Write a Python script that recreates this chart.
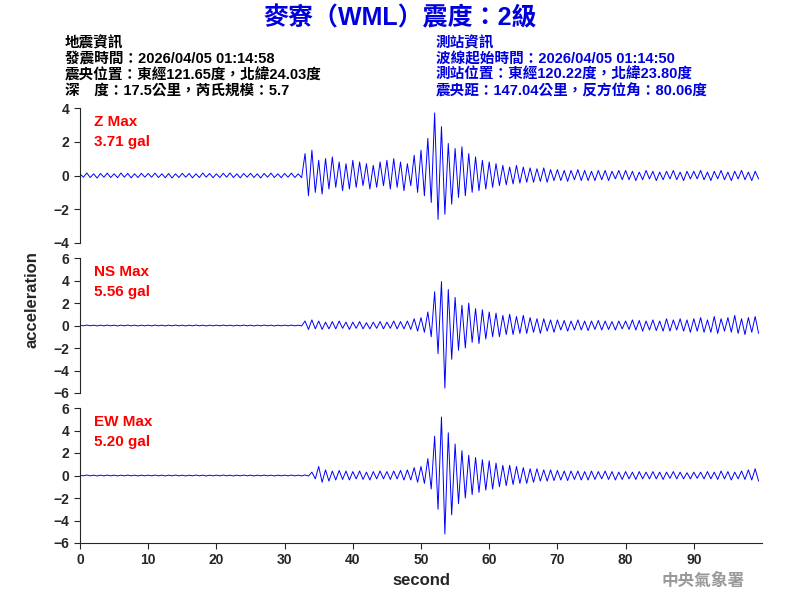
import numpy as np, pandas as pd, seaborn as sns, matplotlib
matplotlib.use("Agg")
import matplotlib.pyplot as plt

sns.set_style("white")
plt.rcParams['font.family'] = ['Liberation Sans', 'Noto Sans CJK TC', 'DejaVu Sans']

time_step = 0.5
z_vals = [0.1,-0.1,0.15,-0.12,0.1,-0.15,0.12,-0.1,0.14,-0.12,0.1,-0.13,0.15,-0.1,0.12,-0.14,0.1,-0.12,0.13,-0.1,
 0.12,-0.1,0.14,-0.12,0.1,-0.13,0.12,-0.15,0.1,-0.12,0.13,-0.1,0.12,-0.14,0.1,-0.12,0.15,-0.1,0.12,-0.13,
 0.1,-0.12,0.13,-0.1,0.15,-0.12,0.1,-0.14,0.12,-0.1,0.13,-0.12,0.1,-0.15,0.12,-0.1,0.14,-0.12,0.1,-0.13,
 0.12,-0.1,0.14,-0.12,0.1,-0.13,1.3,-1.2,1.5,-1.0,0.9,-1.1,1.0,-0.8,1.1,-0.7,0.8,-0.9,0.7,-0.8,
 0.9,-0.7,0.8,-0.6,0.7,-0.8,0.6,-0.7,0.8,-0.6,0.9,-0.8,1.0,-0.7,0.8,-0.9,0.7,-0.6,1.2,-1.0,
 1.5,-1.2,2.2,-1.6,3.71,-2.6,2.9,-2.3,1.9,-1.7,1.6,-1.3,1.7,-1.2,1.3,-1.0,1.1,-0.9,0.9,-0.8,
 0.8,-0.7,0.7,-0.6,0.6,-0.55,0.5,-0.5,0.6,-0.45,0.5,-0.4,0.45,-0.4,0.4,-0.35,0.45,-0.4,0.35,-0.3,
 0.35,-0.3,0.3,-0.35,0.3,-0.25,0.35,-0.3,0.3,-0.3,0.25,-0.3,0.3,-0.25,0.3,-0.3,0.25,-0.2,0.3,-0.25,
 0.3,-0.25,0.25,-0.3,0.2,-0.25,0.3,-0.2,0.25,-0.3,0.2,-0.25,0.25,-0.2,0.3,-0.25,0.2,-0.3,0.25,-0.2,
 0.25,-0.2,0.3,-0.25,0.2,-0.3,0.25,-0.2,0.3,-0.25,0.2,-0.3,0.25,-0.2,0.3,-0.25,0.2,-0.3,0.25,-0.2]
ns_vals = [0.03,-0.03,0.04,-0.03,0.03,-0.04,0.03,-0.03,0.04,-0.03,0.03,-0.04,0.03,-0.03,0.04,-0.03,0.03,-0.04,0.03,-0.03,
 0.03,-0.03,0.04,-0.03,0.03,-0.04,0.03,-0.03,0.04,-0.03,0.03,-0.04,0.03,-0.03,0.04,-0.03,0.03,-0.04,0.03,-0.03,
 0.03,-0.03,0.04,-0.03,0.03,-0.04,0.03,-0.03,0.04,-0.03,0.03,-0.04,0.03,-0.03,0.04,-0.03,0.03,-0.04,0.03,-0.03,
 0.03,-0.03,0.04,-0.03,0.03,-0.04,0.4,-0.35,0.5,-0.3,0.4,-0.35,0.3,-0.3,0.35,-0.3,0.4,-0.25,0.3,-0.35,
 0.3,-0.25,0.35,-0.3,0.25,-0.3,0.3,-0.25,0.35,-0.3,0.3,-0.25,0.4,-0.3,0.35,-0.3,0.4,-0.35,0.6,-0.5,
 0.7,-0.6,1.2,-1.0,3.0,-2.5,3.9,-5.56,3.2,-3.0,2.5,-2.2,1.8,-2.0,2.0,-1.5,1.5,-1.6,1.4,-1.2,
 1.2,-1.0,1.1,-1.0,0.9,-0.8,1.0,-0.8,0.8,-0.7,0.9,-0.7,0.7,-0.6,0.6,-0.7,0.6,-0.5,0.5,-0.6,
 0.5,-0.4,0.45,-0.5,0.4,-0.4,0.5,-0.4,0.4,-0.45,0.4,-0.35,0.45,-0.4,0.4,-0.35,0.35,-0.4,0.4,-0.3,
 0.4,-0.35,0.5,-0.4,0.45,-0.5,0.4,-0.4,0.5,-0.45,0.4,-0.5,0.6,-0.5,0.5,-0.4,0.6,-0.5,0.5,-0.6,
 0.6,-0.5,0.7,-0.6,0.5,-0.6,0.8,-0.7,0.6,-0.5,0.7,-0.6,0.9,-0.7,0.6,-0.8,0.7,-0.6,0.8,-0.7]
ew_vals = [0.03,-0.03,0.04,-0.03,0.03,-0.04,0.03,-0.03,0.04,-0.03,0.03,-0.04,0.03,-0.03,0.04,-0.03,0.03,-0.04,0.03,-0.03,
 0.03,-0.03,0.04,-0.03,0.03,-0.04,0.03,-0.03,0.04,-0.03,0.03,-0.04,0.03,-0.03,0.04,-0.03,0.03,-0.04,0.03,-0.03,
 0.03,-0.03,0.04,-0.03,0.03,-0.04,0.03,-0.03,0.04,-0.03,0.03,-0.04,0.03,-0.03,0.04,-0.03,0.03,-0.04,0.03,-0.03,
 0.03,-0.03,0.04,-0.03,0.03,-0.04,0.05,-0.05,0.3,-0.3,0.8,-0.6,0.5,-0.5,0.4,-0.4,0.45,-0.35,0.4,-0.4,
 0.35,-0.3,0.4,-0.35,0.3,-0.4,0.35,-0.3,0.4,-0.3,0.35,-0.35,0.4,-0.3,0.45,-0.4,0.5,-0.4,0.7,-0.6,
 0.8,-0.7,1.5,-1.2,3.5,-3.0,5.2,-5.2,3.8,-3.5,2.8,-2.5,2.2,-2.0,1.8,-1.7,1.6,-1.5,1.4,-1.3,
 1.3,-1.2,1.1,-1.0,0.9,-0.9,0.9,-0.8,0.8,-0.7,0.7,-0.7,0.6,-0.6,0.6,-0.5,0.5,-0.5,0.5,-0.45,
 0.45,-0.4,0.4,-0.45,0.4,-0.35,0.4,-0.4,0.35,-0.4,0.4,-0.35,0.35,-0.3,0.4,-0.35,0.35,-0.4,0.3,-0.35,
 0.35,-0.3,0.3,-0.35,0.35,-0.3,0.3,-0.3,0.35,-0.3,0.3,-0.35,0.3,-0.25,0.35,-0.3,0.3,-0.3,0.25,-0.3,
 0.3,-0.25,0.3,-0.3,0.35,-0.3,0.3,-0.35,0.4,-0.3,0.35,-0.4,0.3,-0.3,0.4,-0.35,0.5,-0.4,0.6,-0.5]
t = np.arange(len(z_vals)) * time_step

channels = [("Z Max", "3.71 gal", z_vals, (-4, 4), [-4,-2,0,2,4]),
            ("NS Max", "5.56 gal", ns_vals, (-6, 6), [-6,-4,-2,0,2,4,6]),
            ("EW Max", "5.20 gal", ew_vals, (-6, 6), [-6,-4,-2,0,2,4,6])]

fig = plt.figure(figsize=(8, 6), dpi=100)
tops = [108, 258, 408]
for i, (name, val, vals, yl, yt) in enumerate(channels):
    ax = fig.add_axes([80/800, 1-(tops[i]+135)/600, 682/800, 135/600])
    df = pd.DataFrame({"t": t, "a": vals})
    sns.lineplot(data=df, x="t", y="a", ax=ax, color="blue", lw=0.7)
    ax.set_xlim(0, 100); ax.set_ylim(*yl); ax.set_yticks(yt)
    ax.set_xlabel(""); ax.set_ylabel("")
    for s in ["top", "right"]:
        ax.spines[s].set_visible(False)
    if i < 2:
        ax.spines["bottom"].set_visible(False); ax.set_xticks([])
    else:
        ax.set_xticks(range(0, 100, 10))
        ax.set_xlabel("second", fontsize=12, fontweight="bold")
    ax.tick_params(axis="both", labelsize=10, length=4, direction="out", left=True, bottom=(i == 2))
    for lab in ax.get_xticklabels() + ax.get_yticklabels():
        lab.set_fontweight("bold")
    ax.text(0.02, 0.95, name, transform=ax.transAxes, color="red", fontsize=11, fontweight="bold", va="top")
    ax.text(0.02, 0.80, val, transform=ax.transAxes, color="red", fontsize=11, fontweight="bold", va="top")

fig.text(32/800, 0.5, "acceleration", rotation=90, fontsize=12, fontweight="bold", ha="center", va="center")
fig.text(0.5, 1-18/600, "麥寮（WML）震度：2級", color="#0000dd", fontsize=18, fontweight="bold", ha="center", va="center")
left = ["地震資訊", "發震時間：2026/04/05 01:14:58", "震央位置：東經121.65度，北緯24.03度", "深　度：17.5公里，芮氏規模：5.7"]
right = ["測站資訊", "波線起始時間：2026/04/05 01:14:50", "測站位置：東經120.22度，北緯23.80度", "震央距：147.04公里，反方位角：80.06度"]
for k in range(4):
    y = 1 - (43 + k*16)/600
    fig.text(65/800, y, left[k], fontsize=10.5, fontweight="bold", va="center", color="black")
    fig.text(436/800, y, right[k], fontsize=10.5, fontweight="bold", va="center", color="#0000dd")
fig.text(745/800, 1-581/600, "中央氣象署", fontsize=12, fontweight="bold", color="#999999", ha="right", va="center")
fig.savefig("out.png", dpi=100)
